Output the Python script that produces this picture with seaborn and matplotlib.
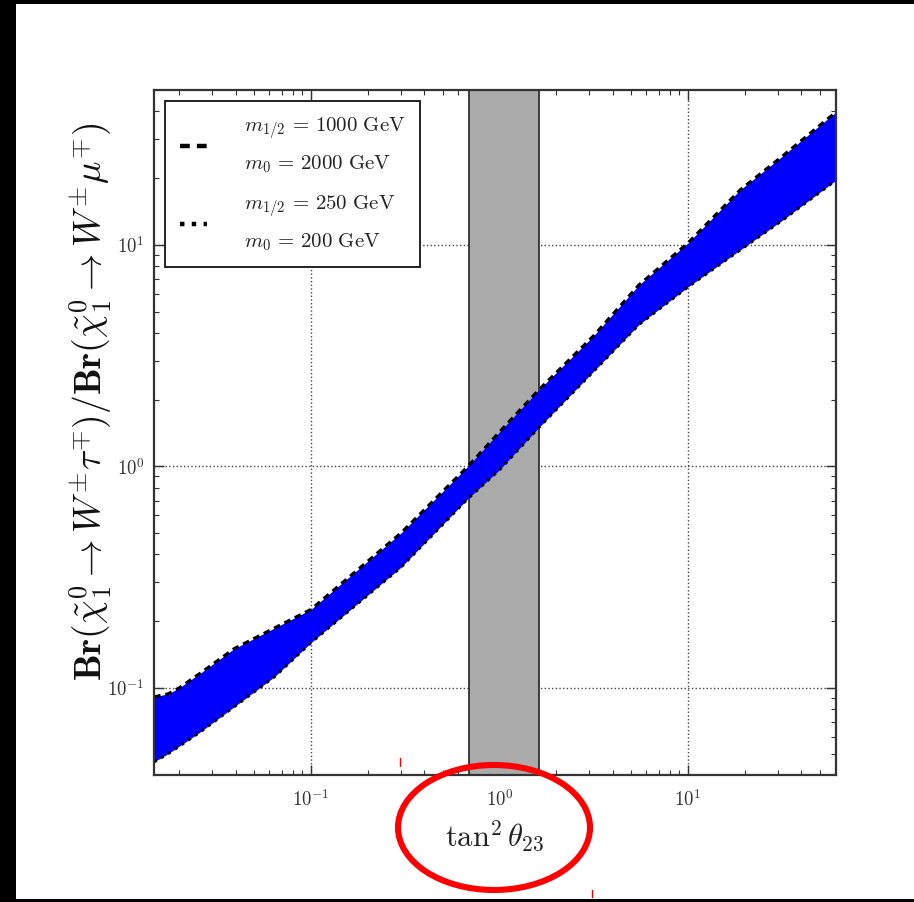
import numpy as np
import matplotlib
matplotlib.use("Agg")
import matplotlib.pyplot as plt
import seaborn as sns
import pandas as pd
from matplotlib.patches import Ellipse, Rectangle
from matplotlib.lines import Line2D
from matplotlib.ticker import LogLocator, FuncFormatter, NullFormatter

# tan^2(theta_23) sample points and the two benchmark curves of the ratio
tan2_theta23 = [0.0147, 0.0175, 0.02, 0.0257, 0.039, 0.0638, 0.1, 0.3, 0.68, 1.0,
                1.62, 3.16, 5.5, 10.0, 18.9, 31.6, 61.0]
ratio_heavy = [0.091, 0.094, 0.100, 0.116, 0.150, 0.186, 0.226, 0.50, 1.0, 1.43,
               2.22, 3.89, 6.60, 10.2, 17.7, 25.1, 39.8]
ratio_light = [0.0463, 0.0505, 0.0545, 0.0630, 0.082, 0.112, 0.160, 0.35, 0.715, 0.965,
               1.50, 2.69, 4.37, 6.46, 9.48, 12.9, 19.6]

# allowed tan^2(theta_23) interval
allowed_range = [0.69, 1.63]

label_heavy = "$m_{1/2}\\,=\\,1000\\ \\mathrm{GeV}$\n$m_0\\,=\\,2000\\ \\mathrm{GeV}$"
label_light = "$m_{1/2}\\,=\\,250\\ \\mathrm{GeV}$\n$m_0\\,=\\,200\\ \\mathrm{GeV}$"

df = pd.DataFrame({"x": tan2_theta23, "heavy": ratio_heavy, "light": ratio_light})

sns.set_style("ticks")
plt.rcParams["mathtext.fontset"] = "cm"
plt.rcParams["font.family"] = ["DejaVu Serif"]
plt.rcParams["xtick.direction"] = "in"
plt.rcParams["ytick.direction"] = "in"

fig = plt.figure(figsize=(9.14, 9.02), dpi=100)
fig.patch.set_facecolor("white")
ax = fig.add_axes([0.1685, 0.1408, 0.7462, 0.7594])

ax.set_xscale("log")
ax.set_yscale("log")

# allowed region
ax.axvspan(allowed_range[0], allowed_range[1], facecolor="#aaaaaa",
           edgecolor="#222222", linewidth=1.2, zorder=1)

# band between the two benchmarks
ax.fill_between(df["x"], df["light"], df["heavy"], color="#0000ff",
                linewidth=0, zorder=2)
sns.lineplot(data=df, x="x", y="heavy", ax=ax, color="black", linewidth=2.2,
             zorder=3, legend=False)
ax.lines[-1].set_dashes((2.2, 1.6))
sns.lineplot(data=df, x="x", y="light", ax=ax, color="black", linewidth=2.2,
             zorder=3, legend=False)
ax.lines[-1].set_linestyle(":")

ax.set_xlim(0.0147, 61)
ax.set_ylim(0.0404, 50)

ax.xaxis.set_major_locator(LogLocator(base=10, numticks=10))
ax.yaxis.set_major_locator(LogLocator(base=10, numticks=10))
ax.xaxis.set_minor_locator(LogLocator(base=10, subs=np.arange(2, 10), numticks=20))
ax.yaxis.set_minor_locator(LogLocator(base=10, subs=np.arange(2, 10), numticks=20))
fmt = FuncFormatter(lambda v, p: "$10^{%d}$" % int(round(np.log10(v))))
ax.xaxis.set_major_formatter(fmt)
ax.yaxis.set_major_formatter(fmt)
ax.xaxis.set_minor_formatter(NullFormatter())
ax.yaxis.set_minor_formatter(NullFormatter())
ax.tick_params(which="both", top=True, right=True, colors="#333333",
               labelcolor="#333333", labelsize=13.5)
ax.tick_params(which="major", length=7, width=1)
ax.tick_params(which="minor", length=3.5, width=0.8)
ax.tick_params(axis="x", pad=10)
ax.tick_params(axis="y", pad=7)

ax.grid(True, which="major", linestyle=":", color="#444444", linewidth=1.0, zorder=0)
ax.set_axisbelow(True)
for s in ax.spines.values():
    s.set_color("#333333")
    s.set_linewidth(1.6)
    s.set_zorder(5)

ax.set_xlabel(r"$\tan^2\theta_{23}$", fontsize=22, color="#222222", labelpad=6)
ax.set_ylabel(r"$\mathbf{Br}(\tilde{\chi}^0_1 \rightarrow W^{\pm}\tau^{\mp})/\mathbf{Br}(\tilde{\chi}^0_1 \rightarrow W^{\pm}\mu^{\mp})$",
              fontsize=27, color="#111111")
ax.yaxis.set_label_coords((91 - 154) / 682, (775 - 402) / 685)
ax.yaxis.label.set_verticalalignment("center")

handles = [Line2D([], [], color="black", linewidth=3.2, dashes=(2.2, 1.6)),
           Line2D([], [], color="black", linewidth=3.2, linestyle=":")]
leg = ax.legend(handles, [label_heavy, label_light], loc="upper left",
                fontsize=15, handlelength=1.3, handletextpad=1.75,
                borderpad=0.7, labelspacing=0.95, fancybox=False,
                framealpha=1, edgecolor="#222222", borderaxespad=0.55)
leg.get_frame().set_linewidth(1.4)
for t in leg.get_texts():
    t.set_color("#222222")
    t.set_linespacing(1.68)

# frame of the page
fig.add_artist(Rectangle((0, 0), 16 / 914, 1, transform=fig.transFigure,
                         facecolor="black", edgecolor="none", zorder=10))
fig.add_artist(Rectangle((0, 1 - 4 / 902), 1, 4 / 902, transform=fig.transFigure,
                         facecolor="black", edgecolor="none", zorder=10))
fig.add_artist(Rectangle((0, 0), 1, 3 / 902, transform=fig.transFigure,
                         facecolor="black", edgecolor="none", zorder=10))

# red highlight around the x-axis label
fig.add_artist(Ellipse((494 / 914, 1 - 827.5 / 902), 192 / 914, 125 / 902,
                       transform=fig.transFigure, fill=False,
                       edgecolor="#ff0000", linewidth=4.4, zorder=11))
fig.add_artist(Line2D([400 / 914, 400 / 914], [1 - 758 / 902, 1 - 766 / 902],
                      transform=fig.transFigure, color="#ff0000", linewidth=1))
fig.add_artist(Line2D([592 / 914, 592 / 914], [1 - 890 / 902, 1 - 897 / 902],
                      transform=fig.transFigure, color="#ff0000", linewidth=1))

fig.savefig("out.png", dpi=100)
